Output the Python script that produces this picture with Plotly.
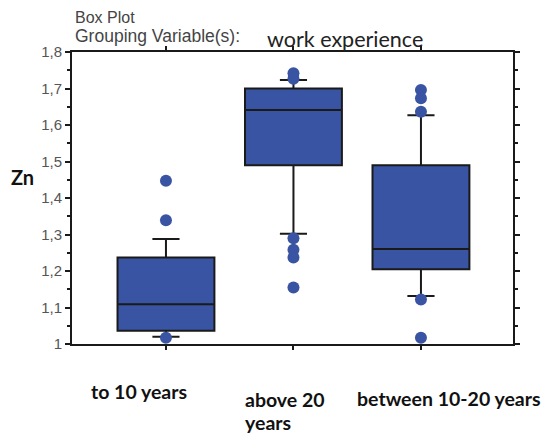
import plotly.graph_objects as go

# ---- data ----
categories = ["to 10 years", "above 20 years", "between 10-20 years"]
tick_text = ["to 10 years", "above 20<br>years", "between 10-20 years"]
q1 = [1.036, 1.490, 1.205]
median = [1.109, 1.641, 1.260]
q3 = [1.237, 1.700, 1.490]
lower_whisker = [1.020, 1.302, 1.1315]
upper_whisker = [1.288, 1.723, 1.627]
outliers = {
    "to 10 years": [1.447, 1.339, 1.017],
    "above 20 years": [1.742, 1.727, 1.290, 1.258, 1.237, 1.155],
    "between 10-20 years": [1.696, 1.673, 1.636, 1.122, 1.017],
}
y_ticks = [1.0, 1.1, 1.2, 1.3, 1.4, 1.5, 1.6, 1.7, 1.8]

BLUE = "rgb(57,84,163)"
INK = "#1a1a1a"
GREY = "#555555"

# the page body has an 8px default margin, so the figure is drawn 8px smaller
OFF = 8
W, H = 555 - OFF, 436 - OFF
L, R, T, B = 72 - OFF, 513 - OFF, 52 - OFF, 344 - OFF  # plot area in pixels


def px_x(x):
    return (x - OFF - L) / (R - L)


def px_y(y):
    return (B - (y - OFF)) / (B - T)


fig = go.Figure()
fig.add_trace(go.Box(
    x=categories, q1=q1, median=median, q3=q3,
    lowerfence=lower_whisker, upperfence=upper_whisker,
    boxpoints=False, width=0.76, whiskerwidth=0.28,
    fillcolor=BLUE, line=dict(color=INK, width=2),
    showlegend=False, hoverinfo="skip",
))
ox, oy = [], []
for c in categories:
    for v in outliers[c]:
        ox.append(c)
        oy.append(v)
fig.add_trace(go.Scatter(
    x=ox, y=oy, mode="markers",
    marker=dict(color=BLUE, size=12, line=dict(width=0)),
    showlegend=False, hoverinfo="skip",
))

fig.update_layout(
    width=W, height=H,
    margin=dict(l=L, r=W - R, t=T, b=H - B, pad=0),
    paper_bgcolor="white", plot_bgcolor="white",
    separators=",.",
    template="none",
    xaxis=dict(
        type="category", categoryorder="array", categoryarray=categories,
        range=[-0.737, 2.722], showgrid=False, zeroline=False,
        showline=True, linecolor=INK, linewidth=2, mirror="ticks",
        ticks="outside", ticklen=4, tickwidth=1.5, tickcolor=INK,
        showticklabels=False,
    ),
    yaxis=dict(
        range=[1.0, 1.8], tickvals=y_ticks, showgrid=False, zeroline=False,
        showline=True, linecolor=INK, linewidth=2, mirror="ticks",
        ticks="outside", ticklen=5, tickwidth=2, tickcolor=INK,
        tickfont=dict(family="Liberation Sans, Arial", size=15, color=GREY),
        minor=dict(dtick=0.05, ticks="outside", ticklen=3, tickwidth=2,
                   tickcolor=INK, showgrid=False),
    ),
    shapes=[
        dict(type="line", xref="paper", yref="paper", x0=1, x1=px_x(519), y0=1, y1=1,
             line=dict(color=INK, width=2)),
        dict(type="line", xref="paper", yref="paper", x0=px_x(68), x1=0, y0=0, y1=0,
             line=dict(color=INK, width=2)),
    ],
)

ann = []
ann.append(dict(text="Box Plot", x=px_x(73), y=px_y(18), xanchor="left", yanchor="middle",
                font=dict(family="Liberation Sans, Arial", size=16, color="#444")))
ann.append(dict(text="Grouping Variable(s):", x=px_x(73), y=px_y(36), xanchor="left", yanchor="middle",
                font=dict(family="Liberation Sans, Arial", size=17.5, color="#444")))
ann.append(dict(text="work experience", x=px_x(265), y=px_y(39), xanchor="left", yanchor="middle",
                font=dict(family="Lato", size=21.5, color="#222")))
ann.append(dict(text="<b>Zn</b>", x=px_x(22.5), y=px_y(177), xanchor="center", yanchor="middle",
                font=dict(family="Lato", size=20, color="#111")))
# category labels below the axis (each line placed separately)
label_pos = [[(89, 391)], [(243, 400), (243, 422)], [(355, 398)]]
for t, lines_pos in zip(tick_text, label_pos):
    for line, (lx, ly) in zip(t.split("<br>"), lines_pos):
        ann.append(dict(text="<b>" + line + "</b>", x=px_x(lx), y=px_y(ly), xanchor="left",
                        yanchor="middle", align="left",
                        font=dict(family="Lato", size=19.5, color="#111")))
for a in ann:
    a.update(xref="paper", yref="paper", showarrow=False)
fig.update_layout(annotations=ann)

fig.write_html("out.html")
